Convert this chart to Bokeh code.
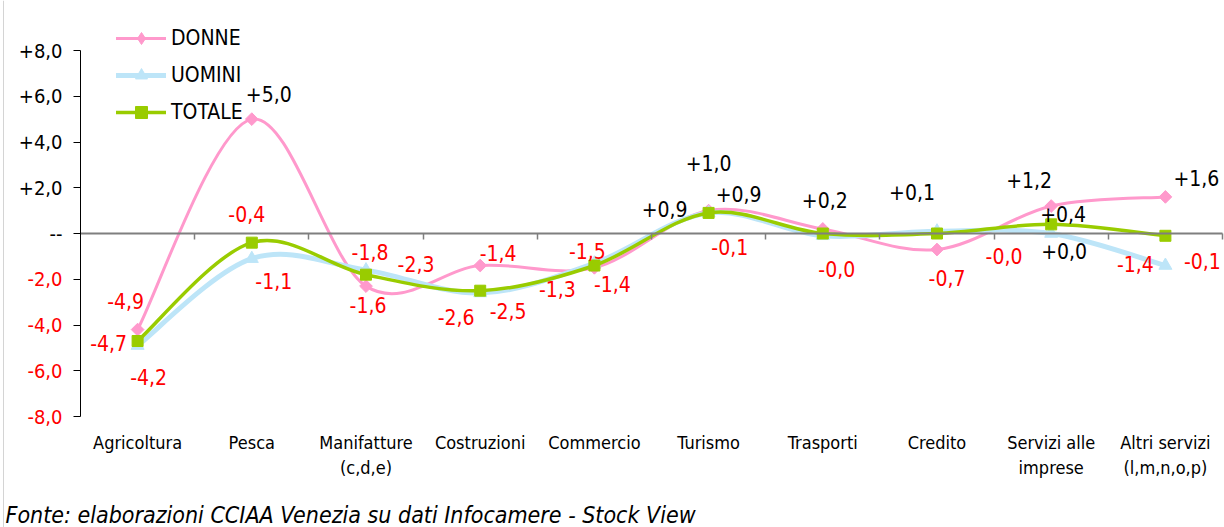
from bokeh.plotting import figure
from bokeh.models import (Range1d, FixedTicker, LinearAxis, Legend, LegendItem,
                          LabelSet, Label, ColumnDataSource, Span)
from bokeh.core.properties import value
from bokeh.embed import file_html
from bokeh.resources import INLINE

# ---------------- data ----------------
categories = ["Agricoltura", "Pesca", "Manifatture\n(c,d,e)", "Costruzioni", "Commercio",
              "Turismo", "Trasporti", "Credito", "Servizi alle\nimprese", "Altri servizi\n(l,m,n,o,p)"]
donne  = [-4.2, 5.0, -2.3, -1.4, -1.5, 1.0, 0.2, -0.7, 1.2, 1.6]
uomini = [-4.9, -1.1, -1.6, -2.6, -1.3, 0.9, -0.1, 0.1, 0.0, -1.4]
totale = [-4.7, -0.4, -1.8, -2.5, -1.4, 0.9, 0.0, 0.0, 0.4, -0.1]

donne_lbl  = ["-4,2", "+5,0", "-2,3", "-1,4", "-1,5", "+1,0", "+0,2", "-0,7", "+1,2", "+1,6"]
uomini_lbl = ["-4,9", "-1,1", "-1,6", "-2,6", "-1,3", "+0,9", "-0,1", "+0,1", "+0,0", "-1,4"]
totale_lbl = ["-4,7", "-0,4", "-1,8", "-2,5", "-1,4", "+0,9", "-0,0", "-0,0", "+0,4", "-0,1"]

y_ticks = [-8, -6, -4, -2, 0, 2, 4, 6, 8]
y_tick_labels = ["-8,0", "-6,0", "-4,0", "-2,0", "--", "+2,0", "+4,0", "+6,0", "+8,0"]

source_note = "Fonte: elaborazioni CCIAA Venezia su dati Infocamere - Stock View"

# ---------------- styles / label placement (pixel offsets) ----------------
donne_dx  = [11, 17, 50, 18, -7, 0, 2, 10, -22, 31]
donne_dy  = [47, -25, -22, -13, -17, -48, -29, 28, -26, -19]
uomini_dx = [-12, 22, 2, -24, -37, -44, -93, -25, 13, -30]
uomini_dy = [-45, 22, 35, 24, 26, -4, 11, -39, 17, -2]
totale_dx = [-29, -5, 4, 28, 18, 30, 14, 67, 12, 37]
totale_dy = [2, -29, -23, 20, 18, -19, 35, 22, -10, 25]

FONT = "DejaVu Sans Condensed"
PINK = "#FF99CC"
BLUE = "#BDE5F8"
GREEN = "#99CC00"
RED = "#FF0000"

# pixel scale of the plotting area (one category = 114.2 px, one unit = 22.875 px)
PX, PY = 114.2, 22.875
W, H = 1224, 527
LEFT, TOP = 80, 233  # px from figure edge to x=0 / y=0

n = len(categories)
xc = [i + 0.5 for i in range(n)]

p = figure(width=W, height=H, output_backend="svg", toolbar_location=None,
           x_range=Range1d(-LEFT / PX, (W - LEFT) / PX),
           y_range=Range1d(-(H - TOP) / PY, TOP / PY),
           min_border_left=0, min_border_right=0, min_border_top=0, min_border_bottom=0)
p.outline_line_color = None
p.grid.visible = False
p.background_fill_color = "white"
p.border_fill_color = "white"

# faint left border of the chart area
p.add_layout(Span(location=-77 / PX, dimension="height", line_color="#D4D4D4", line_width=1))

# y axis (at x = 0, spanning -8..8)
ya = p.yaxis[0]
ya.fixed_location = 0
ya.bounds = (-8, 8)
ya.ticker = FixedTicker(ticks=y_ticks)
ya.major_label_overrides = {t: (lab if t >= 0 else "") for t, lab in zip(y_ticks, y_tick_labels)}
ya.axis_line_color = "black"
ya.major_tick_line_color = "black"
ya.major_tick_out = 7
ya.major_tick_in = 0
ya.minor_tick_line_color = None
ya.major_label_standoff = 11
ya.major_label_text_font = FONT
ya.major_label_text_font_size = "20px"
ya.major_label_text_color = "black"

neg_src = ColumnDataSource(dict(x=[0] * 4, y=[t for t in y_ticks if t < 0],
                                text=[lab for t, lab in zip(y_ticks, y_tick_labels) if t < 0]))
p.add_layout(LabelSet(x="x", y="y", x_offset=-18, text="text", source=neg_src,
                      text_align="right", text_baseline="middle", text_color=RED,
                      text_font=value(FONT), text_font_size="20px"))

# category axis (labels under y = -8)
xa = p.xaxis[0]
xa.fixed_location = -8
xa.ticker = FixedTicker(ticks=xc)
xa.major_label_overrides = {x: c for x, c in zip(xc, categories)}
xa.axis_line_color = None
xa.major_tick_line_color = None
xa.minor_tick_line_color = None
xa.major_tick_out = 0
xa.major_tick_in = 0
xa.major_label_standoff = 15
xa.major_label_text_font = FONT
xa.major_label_text_font_size = "18px"
xa.major_label_text_color = "black"

# zero line axis with tick marks between categories
za = LinearAxis(fixed_location=0, bounds=(0, n), ticker=FixedTicker(ticks=list(range(1, n + 1))))
za.axis_line_color = "#7F7F7F"
za.axis_line_width = 2
za.major_tick_line_color = "#7F7F7F"
za.major_tick_line_width = 1.5
za.major_tick_out = 6
za.major_tick_in = 0
za.minor_tick_line_color = None
za.major_label_text_font_size = "0px"
za.major_label_text_color = None
p.add_layout(za, "below")


def smooth_controls(ys):
    """Excel-style smoothed line: cubic Bezier control points from neighbouring points."""
    m = len(ys)
    out = dict(x0=[], y0=[], x1=[], y1=[], cx0=[], cy0=[], cx1=[], cy1=[])
    for i in range(m - 1):
        a = i - 1 if i > 0 else i
        b = i + 2 if i + 2 < m else i + 1
        out["x0"].append(xc[i]); out["y0"].append(ys[i])
        out["x1"].append(xc[i + 1]); out["y1"].append(ys[i + 1])
        out["cx0"].append(xc[i] + (xc[i + 1] - xc[a]) / 6)
        out["cy0"].append(ys[i] + (ys[i + 1] - ys[a]) / 6)
        out["cx1"].append(xc[i + 1] - (xc[b] - xc[i]) / 6)
        out["cy1"].append(ys[i + 1] - (ys[b] - ys[i]) / 6)
    return ColumnDataSource(out)


series = [
    ("DONNE", donne, donne_lbl, donne_dx, donne_dy, PINK, 3,
     dict(marker="square", size=9, angle=0.785398), "diamond"),
    ("UOMINI", uomini, uomini_lbl, uomini_dx, uomini_dy, BLUE, 5,
     dict(marker="triangle", size=13), "triangle"),
    ("TOTALE", totale, totale_lbl, totale_dx, totale_dy, GREEN, 3.5,
     dict(marker="square", size=11), "square"),
]

items = []
for name, vals, labs, dxs, dys, col, lw, mk, legend_marker in series:
    rb = p.bezier(x0="x0", y0="y0", x1="x1", y1="y1", cx0="cx0", cy0="cy0", cx1="cx1", cy1="cy1",
                  source=smooth_controls(vals), line_color=col, line_width=lw, line_cap="round")
    p.scatter(x=xc, y=vals, fill_color=col, line_color=col, **mk)
    # legend swatch marker (legend draws markers unrotated; zero size keeps it out of the plot)
    rl = p.scatter(x=xc, y=vals, marker=legend_marker, size=0, fill_color=col, line_color=col)
    items.append(LegendItem(label=name, renderers=[rb, rl]))

for name, vals, labs, dxs, dys, col, lw, mk, legend_marker in series:
    src = ColumnDataSource(dict(x=xc, y=vals, text=labs,
                                color=[RED if t.startswith("-") else "black" for t in labs],
                                dx=dxs, dy=[-d for d in dys]))
    p.add_layout(LabelSet(x="x", y="y", text="text", source=src, x_offset="dx", y_offset="dy",
                          text_align="center", text_baseline="middle", text_color="color",
                          text_font=value(FONT), text_font_size="21px"))

legend = Legend(items=items, location=(116, 400), orientation="vertical",
                glyph_width=50, glyph_height=30, label_height=30, spacing=7,
                label_standoff=5, padding=0, margin=0,
                border_line_color=None, background_fill_alpha=0,
                label_text_font=FONT, label_text_font_size="21px", label_text_color="black")
p.add_layout(legend)

p.add_layout(Label(x=5, y=13, x_units="screen", y_units="screen", text=source_note,
                   text_font=FONT, text_font_size="23px", text_font_style="italic",
                   text_baseline="middle", text_align="left", text_color="black"))

open("out.html", "w").write(file_html(p, INLINE))
